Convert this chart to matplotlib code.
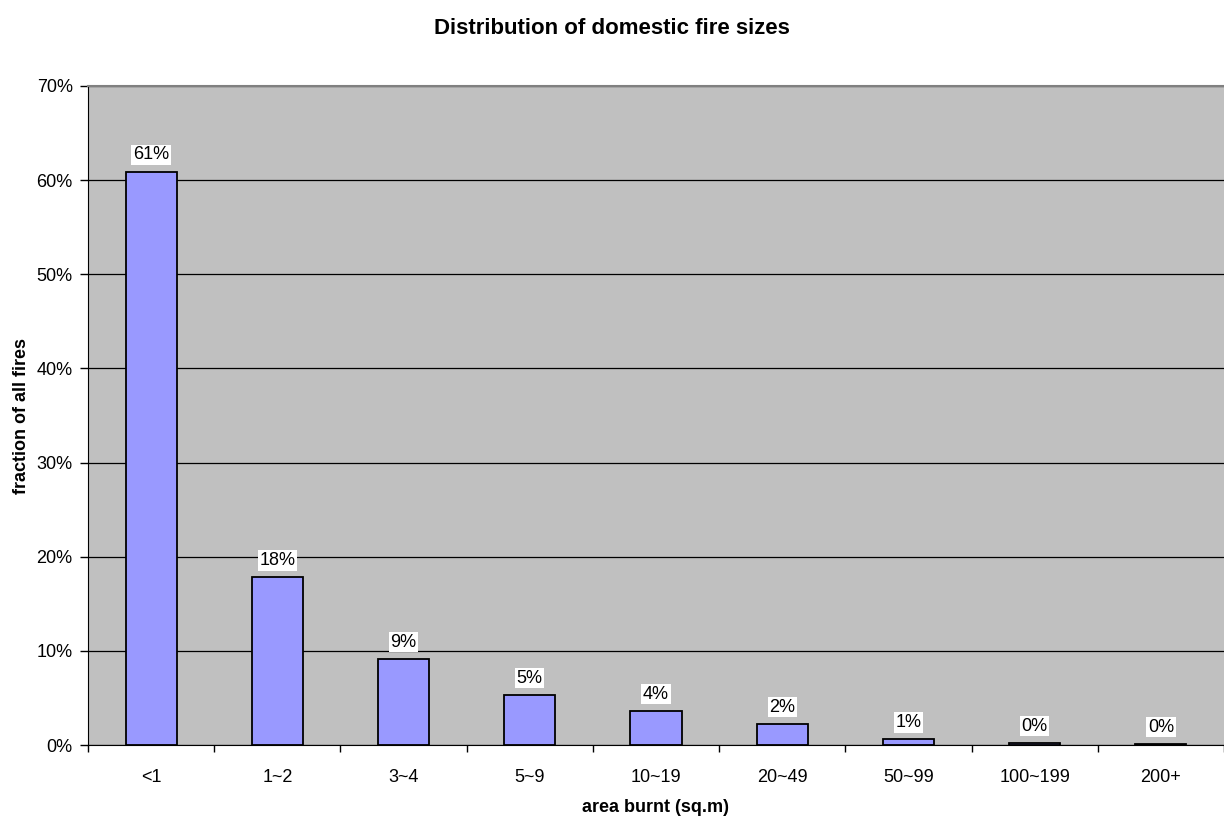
import matplotlib
matplotlib.use("Agg")
import matplotlib.pyplot as plt
from matplotlib.ticker import FuncFormatter, MultipleLocator

plt.rcParams['font.family'] = ['Liberation Sans', 'DejaVu Sans']

categories = ["<1", "1~2", "3~4", "5~9", "10~19", "20~49", "50~99", "100~199", "200+"]
fractions = [0.609, 0.178, 0.091, 0.053, 0.036, 0.022, 0.006, 0.002, 0.001]

fig = plt.figure(figsize=(12.24, 8.16), dpi=100)
ax = fig.add_axes([88 / 1224, 71 / 816, 1 - 88 / 1224, (745 - 86) / 816])
ax.set_facecolor("#c0c0c0")

x = range(len(categories))
ax.bar(x, fractions, width=0.405, color="#9999ff", edgecolor="black", linewidth=1.3, zorder=3)

for xi, v in zip(x, fractions):
    ax.text(xi, v + 0.009, f"{v * 100:.0f}%", ha="center", va="bottom", fontsize=13,
            bbox=dict(facecolor="white", edgecolor="none", pad=1.2), zorder=4)

ax.set_xlim(-0.5, len(categories) - 0.5)
ax.set_ylim(0, 0.70)
ax.yaxis.set_major_locator(MultipleLocator(0.10))
ax.yaxis.set_major_formatter(FuncFormatter(lambda v, p: f"{v * 100:.0f}%"))
ax.grid(axis="y", color="black", linewidth=0.9, zorder=1)
ax.set_axisbelow(True)

ax.set_xticks([i + 0.5 for i in range(-1, len(categories))], minor=False)
ax.set_xticklabels([])
ax.set_xticks(list(x), minor=True)
ax.set_xticklabels(categories, minor=True)
ax.tick_params(axis="x", which="minor", length=0, pad=17, labelsize=13)
ax.tick_params(axis="x", which="major", length=5, width=1, direction="out")
ax.tick_params(axis="y", length=6, width=1, direction="out", labelsize=13, pad=5)

ax.spines["right"].set_visible(False)
ax.spines["top"].set_color("#808080")
ax.spines["top"].set_linewidth(1.5)
ax.spines["left"].set_color("black")
ax.spines["bottom"].set_color("black")

ax.set_xlabel("area burnt (sq.m)", fontsize=13, fontweight="bold", labelpad=10)
ax.set_ylabel("fraction of all fires", fontsize=13, fontweight="bold", labelpad=5)
fig.suptitle("Distribution of domestic fire sizes", x=0.5, y=0.978, fontsize=16, fontweight="bold")

fig.savefig("out.png", dpi=100)
